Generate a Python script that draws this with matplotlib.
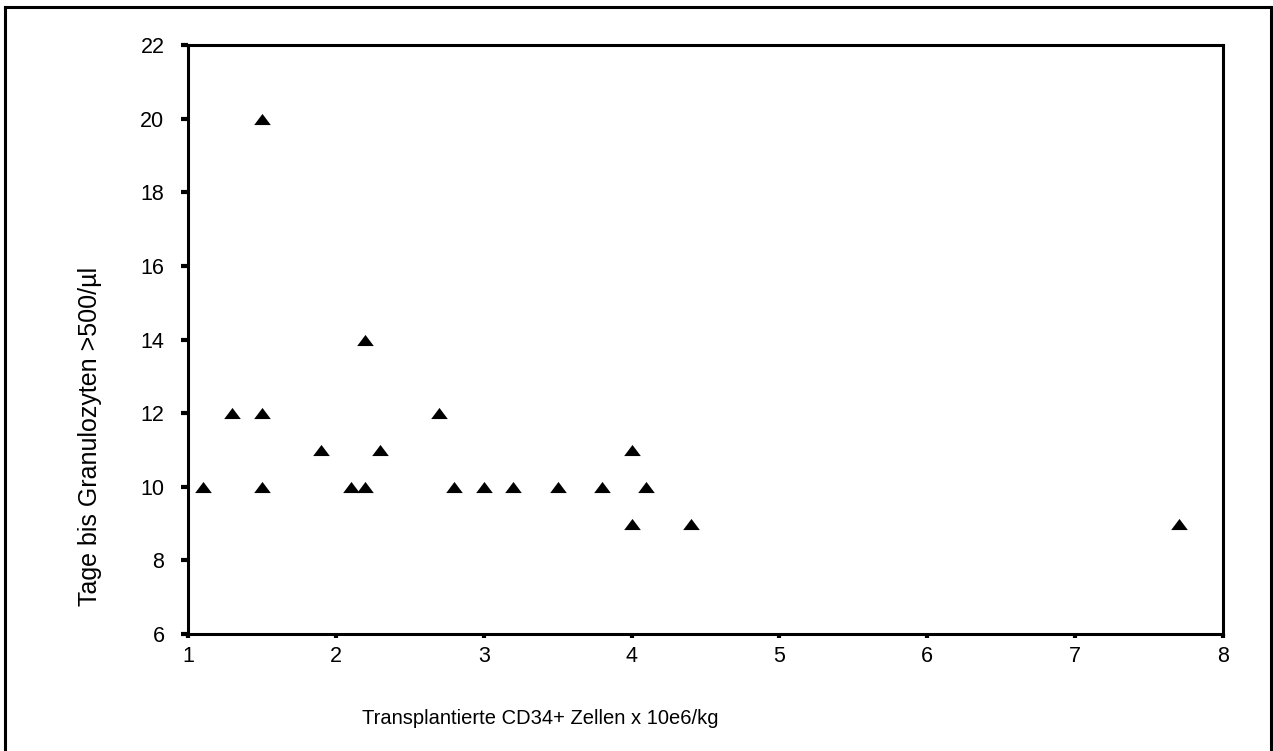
import matplotlib.pyplot as plt
from matplotlib.lines import Line2D

plt.rcParams['font.family'] = ['Liberation Sans', 'DejaVu Sans']

# CD34+ cells (x 10e6/kg) and days until granulocytes > 500/ul
cd34 = [1.1, 1.3, 1.5, 1.5, 1.5, 1.9, 2.1, 2.2, 2.2, 2.3, 2.7, 2.8,
        3.0, 3.2, 3.5, 3.8, 4.0, 4.0, 4.1, 4.4, 7.7]
tage = [10, 12, 20, 12, 10, 11, 10, 10, 14, 11, 12, 10,
        10, 10, 10, 10, 11, 9, 10, 9, 9]

x_ticks = [1, 2, 3, 4, 5, 6, 7, 8]
y_ticks = [6, 8, 10, 12, 14, 16, 18, 20, 22]

W, H = 1273, 751
fig = plt.figure(figsize=(W / 100, H / 100), dpi=100)
ax = fig.add_axes([188 / W, 1 - 634 / H, (1223 - 188) / W, (634 - 45) / H])

# flat triangle marker
tri = [(-1, -0.667), (1, -0.667), (0, 0.667), (-1, -0.667)]
ax.scatter(cd34, tage, marker=tri, s=12 ** 2, color='black', linewidths=0, zorder=3)

ax.set_xlim(1, 8)
ax.set_ylim(6, 22)
ax.set_xticks(x_ticks)
ax.set_yticks(y_ticks)
for sp in ax.spines.values():
    sp.set_linewidth(2.2)
ax.tick_params(axis='y', direction='out', length=5, width=3, pad=12, labelsize=15.5)
ax.tick_params(axis='x', direction='out', length=3, width=3, pad=6, labelsize=15.5)

fig.text(540 / W, 1 - 719 / H, 'Transplantierte CD34+ Zellen x 10e6/kg',
         ha='center', va='center', fontsize=14.5)
fig.text(90 / W, 1 - 436 / H, 'Tage bis Granulozyten >500/µl',
         ha='center', va='center', rotation=90, fontsize=18)

# outer frame (bottom edge is cut off in the original)
kw = dict(color='black', linewidth=2.2, transform=fig.transFigure)
fig.add_artist(Line2D([5 / W, 5 / W], [0, 1 - 7 / H], **kw))
fig.add_artist(Line2D([5 / W, 1271 / W], [1 - 7 / H, 1 - 7 / H], **kw))
fig.add_artist(Line2D([1271 / W, 1271 / W], [0, 1 - 7 / H], **kw))

fig.savefig('out.png', dpi=100)
